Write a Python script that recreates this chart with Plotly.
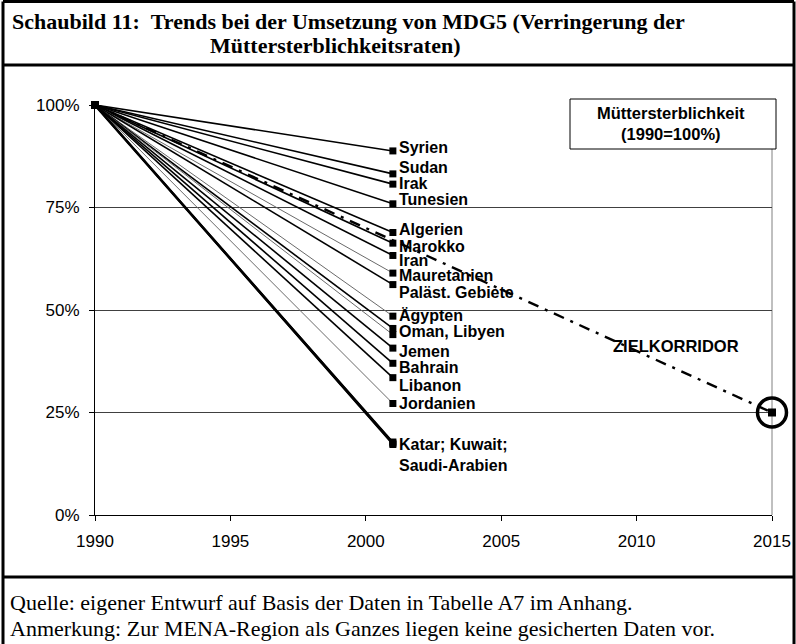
import plotly.graph_objects as go

# ---------------- data ----------------
countries = ["Syrien", "Sudan", "Irak", "Tunesien", "Algerien", "Marokko", "Iran",
             "Mauretanien", "Paläst. Gebiete", "Ägypten", "Oman", "Libyen", "Jemen",
             "Bahrain", "Libanon", "Jordanien", "Katar", "Kuwait", "Saudi-Arabien"]
value_1990 = 100
values_2001 = [88.8, 83.2, 80.7, 75.9, 68.9, 66.3, 63.3, 59.0, 56.2, 48.5, 45.5, 44.0,
               40.7, 37.0, 33.5, 27.2, 17.8, 17.5, 17.2]
year_start = 1990
year_data = 2001
target_year = 2015
target_value = 25

label_texts = ["Syrien", "Sudan", "Irak", "Tunesien", "Algerien", "Marokko", "Iran",
               "Mauretanien", "Paläst. Gebiete", "Ägypten", "Oman, Libyen", "Jemen",
               "Bahrain", "Libanon", "Jordanien", "Katar; Kuwait;<br>Saudi-Arabien"]
label_values = [88.8, 83.2, 80.7, 75.9, 68.9, 66.3, 63.3, 59.0, 56.2, 48.5, 44.75,
                40.7, 37.0, 33.5, 27.2, 17.5]

x_ticks = [1990, 1995, 2000, 2005, 2010, 2015]
y_ticks = [0, 25, 50, 75, 100]
y_tick_text = ["0%", "25%", "50%", "75%", "100%"]

# ---------------- styles ----------------
thin = {"Mauretanien", "Jordanien", "Ägypten", "Libyen"}
label_shift = [3, 6, 1, 4, 3, -3, -5, -2, -8, 1, 0, -3, -4, -8, 0, -12]

W, H = 796, 644
L, R, T, B = 95, 772, 105, 515


def px(x):
    return (x - L) / (R - L)


def py(y):
    return (B - y) / (B - T)


fig = go.Figure()

for name, v in zip(countries, values_2001):
    is_thin = name in thin
    fig.add_trace(go.Scatter(
        x=[year_start, year_data], y=[value_1990, v], mode="lines+markers",
        line=dict(color="#6a6a6a" if is_thin else "#000000", width=1 if is_thin else 1.6),
        marker=dict(symbol="square", size=7, color="#000000"),
        cliponaxis=False, showlegend=False, hoverinfo="skip"))

# Katar/Kuwait/Saudi line thicker
fig.add_trace(go.Scatter(
    x=[year_start, year_data], y=[value_1990, values_2001[-2]], mode="lines",
    line=dict(color="#000000", width=2.6), cliponaxis=False, showlegend=False,
    hoverinfo="skip"))

# Zielkorridor
fig.add_trace(go.Scatter(
    x=[year_start, target_year], y=[value_1990, target_value], mode="lines",
    line=dict(color="#000000", width=2.4, dash="11px,7px,3px,7px"),
    cliponaxis=False, showlegend=False, hoverinfo="skip"))
fig.add_trace(go.Scatter(
    x=[target_year], y=[target_value], mode="markers",
    marker=dict(symbol="square", size=8, color="#000000"),
    cliponaxis=False, showlegend=False, hoverinfo="skip"))
fig.add_trace(go.Scatter(
    x=[target_year], y=[target_value], mode="markers",
    marker=dict(symbol="circle-open", size=29, color="#000000",
                line=dict(width=3.5, color="#000000")),
    cliponaxis=False, showlegend=False, hoverinfo="skip"))

label_font = dict(family="Liberation Sans, Arial", size=16, color="#000000", weight="bold")

annotations = []
for t, v, s in zip(label_texts, label_values, label_shift):
    annotations.append(dict(
        x=year_data, y=v, xref="x", yref="y", text=t, showarrow=False,
        xanchor="left", yanchor="middle", align="left", xshift=4, yshift=s,
        font=label_font))

annotations.append(dict(
    x=2011.45, y=41.2, xref="x", yref="y", text="ZIELKORRIDOR", showarrow=False,
    xanchor="center", yanchor="middle",
    font=dict(family="Liberation Sans, Arial", size=16.5, color="#000000", weight="bold")))

# legend-like box text
annotations.append(dict(
    x=px(671), y=py(123), xref="paper", yref="paper",
    text="Müttersterblichkeit<br>(1990=100%)", showarrow=False,
    xanchor="center", yanchor="middle", align="center",
    font=dict(family="Liberation Sans, Arial", size=16.5, color="#000000", weight="bold")))

# title
title_font = dict(family="Liberation Serif, Times New Roman", size=22, color="#000000",
                  weight="bold")
annotations.append(dict(
    x=px(10), y=py(21), xref="paper", yref="paper",
    text="Schaubild 11:\u00a0\u00a0Trends bei der Umsetzung von MDG5 (Verringerung der",
    showarrow=False, xanchor="left", yanchor="middle", font=title_font))
annotations.append(dict(
    x=px(208), y=py(45), xref="paper", yref="paper",
    text="Müttersterblichkeitsraten)",
    showarrow=False, xanchor="left", yanchor="middle", font=title_font))

# footer
foot_font = dict(family="Liberation Serif, Times New Roman", size=22, color="#000000")
annotations.append(dict(
    x=px(8), y=py(602), xref="paper", yref="paper",
    text="Quelle: eigener Entwurf auf Basis der Daten in Tabelle A7 im Anhang.",
    showarrow=False, xanchor="left", yanchor="middle", font=foot_font))
annotations.append(dict(
    x=px(8), y=py(628), xref="paper", yref="paper",
    text="Anmerkung: Zur MENA-Region als Ganzes liegen keine gesicherten Daten vor.",
    showarrow=False, xanchor="left", yanchor="middle", font=foot_font))

frame = dict(color="#000000", width=3)
shapes = [
    # outer frame (bottom edge lies below the visible page)
    dict(type="line", xref="paper", yref="paper", x0=px(3), x1=px(3), y0=py(660), y1=py(1.5),
         line=frame, layer="above"),
    dict(type="line", xref="paper", yref="paper", x0=px(794), x1=px(794), y0=py(660),
         y1=py(1.5), line=frame, layer="above"),
    dict(type="line", xref="paper", yref="paper", x0=px(3), x1=px(794), y0=py(1.5),
         y1=py(1.5), line=frame, layer="above"),
    # title separator
    dict(type="line", xref="paper", yref="paper", x0=px(3), x1=px(794), y0=py(65), y1=py(65),
         line=frame, layer="above"),
    # footer separator
    dict(type="line", xref="paper", yref="paper", x0=px(3), x1=px(794), y0=py(577),
         y1=py(577), line=frame, layer="above"),
    # legend box
    dict(type="rect", xref="paper", yref="paper", x0=px(570), x1=px(776), y0=py(149), y1=py(99),
         line=dict(color="#000000", width=1), fillcolor="#ffffff", layer="above"),
    # right plot border
    dict(type="line", xref="paper", yref="paper", x0=1, x1=1, y0=0, y1=1,
         line=dict(color="#808080", width=1), layer="below"),
]

tick_font = dict(family="Liberation Sans, Arial", size=17, color="#000000")

fig.update_layout(
    width=W, height=H,
    margin=dict(l=L, r=W - R, t=T, b=H - B, autoexpand=False),
    paper_bgcolor="#ffffff", plot_bgcolor="#ffffff",
    annotations=annotations, shapes=shapes, showlegend=False,
    xaxis=dict(range=[year_start, target_year], tickmode="array", tickvals=x_ticks,
               showgrid=False, zeroline=False, showline=True, linecolor="#000000",
               linewidth=1, ticks="outside", ticklen=5, tickcolor="#000000",
               ticklabelstandoff=6, tickfont=tick_font),
    yaxis=dict(range=[0, 100], tickmode="array", tickvals=y_ticks, ticktext=y_tick_text,
               showgrid=True, gridcolor="#404040", gridwidth=1, zeroline=False,
               showline=True, linecolor="#000000", linewidth=1, ticks="outside",
               ticklen=5, tickcolor="#000000", ticklabelstandoff=6, tickfont=tick_font),
)

fig.write_html("out.html", config={"displayModeBar": False},
               post_script="document.body.style.margin='0';"
                           "document.body.style.overflow='hidden';")
